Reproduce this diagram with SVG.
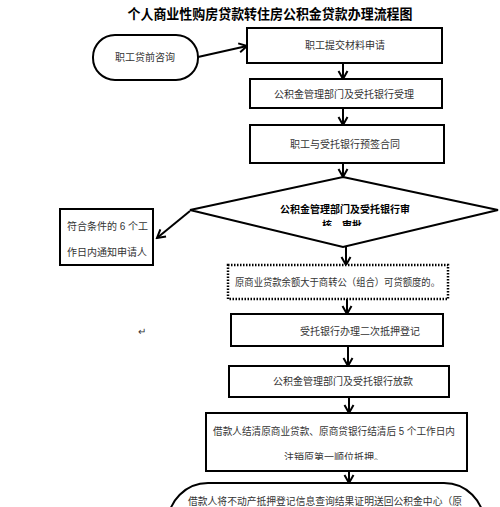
<svg xmlns="http://www.w3.org/2000/svg" width="500" height="507" viewBox="0 0 500 507">
<style>
.box{fill:#fff;stroke:#000;stroke-width:2}
.dot{fill:#fff;stroke:#000;stroke-width:2.5;stroke-dasharray:1.5 1.5}
.t{font-family:"Liberation Sans","Noto Sans CJK SC",sans-serif;font-size:10px;fill:#333}
.b{font-family:"Liberation Serif","Noto Sans CJK SC",serif;font-size:10px;font-weight:bold;fill:#000}
.ttl{font-family:"Liberation Serif","Noto Sans CJK SC",serif;font-size:14px;font-weight:bold;fill:#000}
.c{stroke:#000;stroke-width:2;fill:none;marker-end:url(#ah)}
</style>
<defs>
<marker id="ah" markerUnits="userSpaceOnUse" markerWidth="12" markerHeight="12" viewBox="0 0 12 12" refX="10" refY="6" orient="auto">
<path d="M2,1.5 L10,6 L2,10.5" fill="none" stroke="#000" stroke-width="2"/>
</marker>
<clipPath id="cp1"><rect x="300" y="214" width="90" height="12"/></clipPath>
<clipPath id="cp2"><rect x="270" y="448" width="130" height="12"/></clipPath>
</defs>
<rect width="500" height="507" fill="#fff"/>
<text class="ttl" x="270" y="19" text-anchor="middle" textLength="285" lengthAdjust="spacingAndGlyphs">个人商业性购房贷款转住房公积金贷款办理流程图</text>

<g id="connectors">
<line class="c" x1="198" y1="57" x2="247" y2="46"/>
<line class="c" x1="343" y1="63" x2="343" y2="79"/>
<line class="c" x1="343" y1="108" x2="343" y2="125"/>
<line class="c" x1="343" y1="163" x2="343" y2="177"/>
<line class="c" x1="190" y1="211" x2="157" y2="238"/>
<line class="c" x1="346" y1="247" x2="346" y2="265"/>
<line class="c" x1="347" y1="299" x2="347" y2="314"/>
<line class="c" x1="348" y1="346" x2="348" y2="366"/>
<line class="c" x1="349" y1="397" x2="349" y2="413"/>
<line class="c" x1="349" y1="471" x2="349" y2="483"/>
</g>

<g id="n_consult">
<rect class="box" x="93" y="35" width="105" height="45" rx="22"/>
<text class="t" x="145" y="61" text-anchor="middle">职工贷前咨询</text>
</g>
<g id="n_submit">
<rect class="box" x="247" y="28" width="195" height="35"/>
<text class="t" x="345" y="49" text-anchor="middle">职工提交材料申请</text>
</g>
<g id="n_accept">
<rect class="box" x="250" y="79" width="192" height="29"/>
<text class="t" x="344" y="98" text-anchor="middle">公积金管理部门及受托银行受理</text>
</g>
<g id="n_presign">
<rect class="box" x="250" y="125" width="194" height="38"/>
<text class="t" x="345" y="148" text-anchor="middle">职工与受托银行预签合同</text>
</g>
<g id="n_review">
<polygon class="box" points="343,177 498,210 343,247 190,210"/>
<text class="b" x="345" y="213" text-anchor="middle">公积金管理部门及受托银行审</text>
<text class="b" x="342" y="229" text-anchor="middle" clip-path="url(#cp1)">核、审批</text>
</g>
<g id="n_notify">
<rect class="box" x="60" y="209" width="93" height="56"/>
<text class="t" x="67" y="230">符合条件的 6 个工</text>
<text class="t" x="67" y="256">作日内通知申请人</text>
</g>
<text class="t" x="138" y="335" font-size="8">↵</text>
<g id="n_balance">
<rect class="dot" x="228" y="265" width="220" height="34"/>
<text class="t" x="235" y="286" textLength="205" lengthAdjust="spacingAndGlyphs">原商业贷款余额大于商转公（组合）可贷额度的。</text>
</g>
<g id="n_mortgage">
<rect class="box" x="231" y="314" width="212" height="32"/>
<text class="t" x="300" y="335">受托银行办理二次抵押登记</text>
</g>
<g id="n_loan">
<rect class="box" x="229" y="366" width="220" height="31"/>
<text class="t" x="273" y="385">公积金管理部门及受托银行放款</text>
</g>
<g id="n_settle">
<rect class="box" x="206" y="413" width="261" height="58"/>
<text class="t" x="213" y="435" textLength="242" lengthAdjust="spacingAndGlyphs">借款人结清原商业贷款、原商贷银行结清后 5 个工作日内</text>
<text class="t" x="334" y="461" text-anchor="middle" clip-path="url(#cp2)">注销原第一顺位抵押。</text>
</g>
<g id="n_return">
<rect class="box" x="168" y="483" width="316" height="80" rx="40"/>
<text class="t" x="188" y="505" textLength="274" lengthAdjust="spacingAndGlyphs">借款人将不动产抵押登记信息查询结果证明送回公积金中心（原</text>
</g>
</svg>
